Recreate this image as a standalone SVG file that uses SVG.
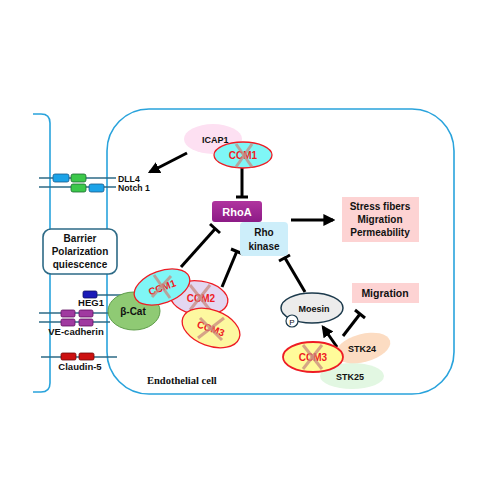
<svg xmlns="http://www.w3.org/2000/svg" width="499" height="500" viewBox="0 0 499 500">
<defs>
<style>
.t{font-family:"Liberation Sans",Arial,sans-serif;font-weight:bold;font-size:10px;fill:#111}
.c{text-anchor:middle}
.red{fill:#ee1c24}
.mem{fill:none;stroke:#29a3dc;stroke-width:1.6}
.jl{stroke:#2d6a86;stroke-width:1.3}
.ln{stroke:#000;stroke-width:3;fill:none}
.x{stroke:#c9897f;stroke-width:3;opacity:0.75}
.ccm{stroke:#ee1c24;stroke-width:1.3}
</style>
<marker id="ah" viewBox="0 0 10 10" refX="8" refY="5" markerWidth="4" markerHeight="4" orient="auto">
<path d="M0,0 L10,5 L0,10 z" fill="#000"/>
</marker>
<linearGradient id="rg" x1="0" y1="0" x2="0" y2="1">
<stop offset="0" stop-color="#b0359f"/><stop offset="1" stop-color="#8c1a86"/>
</linearGradient>
</defs>
<rect width="499" height="500" fill="#fff"/>

<g id="cells">
<path class="mem" d="M33,114 H41 Q50,114 50,123 V383 Q50,392 41,392 H33"/>
<rect class="mem" x="107" y="109" width="347" height="285" rx="42"/>
<text x="147" y="384" style="font-family:'Liberation Serif','Times New Roman',serif;font-weight:bold;font-size:10.5px;fill:#111">Endothelial cell</text>
</g>

<g id="junctions">
<line class="jl" x1="39" y1="178" x2="116" y2="178"/>
<line class="jl" x1="39" y1="187" x2="116" y2="187"/>
<rect x="53" y="174" width="16" height="8" rx="2" fill="#1ca3e8" stroke="#1a5a8a" stroke-width="0.8"/>
<rect x="71" y="174" width="15" height="8" rx="2" fill="#3cc84a" stroke="#1a6a30" stroke-width="0.8"/>
<rect x="71" y="184" width="15" height="8" rx="2" fill="#3cc84a" stroke="#1a6a30" stroke-width="0.8"/>
<rect x="89" y="184" width="15" height="8" rx="2" fill="#1ca3e8" stroke="#1a5a8a" stroke-width="0.8"/>
<text class="t" x="118" y="182" style="font-size:8.7px">DLL4</text>
<text class="t" x="118" y="191" style="font-size:8.7px">Notch 1</text>

<line class="jl" x1="97" y1="295" x2="140" y2="295"/>
<rect x="83" y="291" width="14" height="7" rx="1.5" fill="#1a1ab8" stroke="#101060" stroke-width="0.8"/>
<text class="t c" x="91" y="306" style="font-size:9.5px">HEG1</text>

<line class="jl" x1="39" y1="313" x2="110" y2="313"/>
<line class="jl" x1="39" y1="322" x2="110" y2="322"/>
<rect x="61" y="310" width="14" height="7" rx="1.5" fill="#a03aa0" stroke="#601060" stroke-width="0.8"/>
<rect x="79" y="310" width="14" height="7" rx="1.5" fill="#a03aa0" stroke="#601060" stroke-width="0.8"/>
<rect x="61" y="319" width="14" height="7" rx="1.5" fill="#a03aa0" stroke="#601060" stroke-width="0.8"/>
<rect x="79" y="319" width="14" height="7" rx="1.5" fill="#a03aa0" stroke="#601060" stroke-width="0.8"/>
<text class="t c" x="76" y="335" style="font-size:9.5px">VE-cadherin</text>

<line class="jl" x1="41" y1="357" x2="117" y2="357"/>
<rect x="61" y="353" width="15" height="7" rx="1.5" fill="#cc1010" stroke="#700808" stroke-width="0.8"/>
<rect x="79" y="353" width="15" height="7" rx="1.5" fill="#cc1010" stroke="#700808" stroke-width="0.8"/>
<text class="t c" x="80" y="370" style="font-size:9.5px">Claudin-5</text>
</g>

<g id="barrier">
<rect x="43" y="229" width="74" height="45" rx="8" fill="#fff" stroke="#2d6a86" stroke-width="1.6"/>
<text class="t c" x="80" y="242">Barrier</text>
<text class="t c" x="80" y="255">Polarization</text>
<text class="t c" x="80" y="268">quiescence</text>
</g>

<g id="connectors">
<line class="ln" x1="187" y1="153" x2="150" y2="172" marker-end="url(#ah)"/>
<line class="ln" x1="242" y1="168" x2="242" y2="197"/>
<line class="ln" x1="236" y1="197" x2="248" y2="197"/>
<line class="ln" x1="181" y1="267" x2="215" y2="229"/>
<line class="ln" x1="210" y1="224" x2="220" y2="233"/>
<line class="ln" x1="222" y1="287" x2="237" y2="251"/>
<line class="ln" x1="231" y1="249" x2="243" y2="254"/>
<line class="ln" x1="305" y1="292" x2="285" y2="258"/>
<line class="ln" x1="279" y1="261" x2="290" y2="255"/>
<line class="ln" x1="291" y1="220" x2="333" y2="220" marker-end="url(#ah)"/>
<line class="ln" x1="337" y1="347" x2="323" y2="327" marker-end="url(#ah)"/>
<line class="ln" x1="343" y1="336" x2="360" y2="314"/>
<line class="ln" x1="355" y1="310" x2="365" y2="318"/>
</g>

<g id="icap1">
<ellipse cx="213" cy="139" rx="29" ry="15" fill="#fde0f2"/>
<text class="t" x="202" y="143" style="font-size:9px">ICAP1</text>
</g>
<g id="ccm1-top">
<ellipse class="ccm" cx="243" cy="155" rx="29" ry="13" fill="#7ff6f6"/>
<text class="t c red" x="243" y="159">CCM1</text>
<line class="x" x1="236" y1="144" x2="252" y2="167"/>
<line class="x" x1="252" y1="144" x2="236" y2="167"/>
</g>

<g id="rhoa">
<rect x="212" y="201" width="50" height="21" rx="3" fill="url(#rg)"/>
<text class="t c" x="237" y="216" style="fill:#fff;font-size:11px">RhoA</text>
</g>
<g id="rhokinase">
<rect x="240" y="222" width="48" height="34" rx="4" fill="#cdeefa"/>
<text class="t c" x="264" y="236">Rho</text>
<text class="t c" x="264" y="250">kinase</text>
</g>

<g id="stress">
<rect x="342" y="197" width="77" height="45" fill="#fdd3d3"/>
<text class="t c" x="380" y="210">Stress fibers</text>
<text class="t c" x="380" y="223">Migration</text>
<text class="t c" x="380" y="236">Permeability</text>
</g>

<g id="bcat">
<ellipse cx="134" cy="311" rx="26" ry="19" fill="#8fca74" stroke="#5f9e4a" stroke-width="1"/>
<text class="t c" x="133" y="315">β-Cat</text>
</g>
<g id="ccm2">
<ellipse class="ccm" cx="199" cy="298" rx="29" ry="17" fill="#e3d7f1" transform="rotate(8 199 298)"/>
<text class="t c red" x="201" y="302">CCM2</text>
<line class="x" x1="190" y1="285" x2="210" y2="310"/>
<line class="x" x1="210" y1="285" x2="190" y2="310"/>
</g>
<g id="ccm3-left">
<ellipse class="ccm" cx="211" cy="328" rx="30" ry="18" fill="#fdf8a0" transform="rotate(20 211 328)"/>
<text class="t c red" x="211" y="332" transform="rotate(20 211 328)">CCM3</text>
<line class="x" x1="200" y1="318" x2="222" y2="340"/>
<line class="x" x1="224" y1="318" x2="198" y2="338"/>
</g>
<g id="ccm1-left">
<ellipse class="ccm" cx="162" cy="287" rx="29" ry="16" fill="#7ff6f6" transform="rotate(-20 162 287)"/>
<text class="t c red" x="162" y="291" transform="rotate(-20 162 287)">CCM1</text>
<line class="x" x1="154" y1="275" x2="170" y2="298"/>
<line class="x" x1="171" y1="276" x2="152" y2="297"/>
</g>

<g id="moesin">
<ellipse cx="312" cy="308" rx="31" ry="15" fill="#ececec" stroke="#1c3a4c" stroke-width="1.5"/>
<text class="t c" x="314" y="312" style="font-size:9px">Moesin</text>
<circle cx="292" cy="321" r="6" fill="#fff" stroke="#1c3a4c" stroke-width="1.2"/>
<text class="t c" x="292" y="324.5" style="font-size:8px;font-weight:normal">P</text>
</g>
<g id="migration">
<rect x="352" y="283" width="67" height="20" fill="#fdd3d3"/>
<text class="t c" x="385" y="297" style="font-size:10.5px">Migration</text>
</g>

<g id="stk25">
<ellipse cx="352" cy="376" rx="32" ry="13" fill="#e2f7e2"/>
<text class="t c" x="350" y="380" style="font-size:9px">STK25</text>
</g>
<g id="stk24">
<ellipse cx="363" cy="348" rx="28" ry="14" fill="#fcdcc2" transform="rotate(-15 363 348)"/>
<text class="t c" x="362" y="352" style="font-size:9px">STK24</text>
</g>
<g id="ccm3-right">
<ellipse cx="313" cy="357" rx="30" ry="15" fill="#fffb9a" stroke="#ee1c24" stroke-width="1.8"/>
<text class="t c red" x="313" y="361">CCM3</text>
<line class="x" x1="303" y1="345" x2="322" y2="369"/>
<line class="x" x1="322" y1="345" x2="303" y2="369"/>
</g>
</svg>
